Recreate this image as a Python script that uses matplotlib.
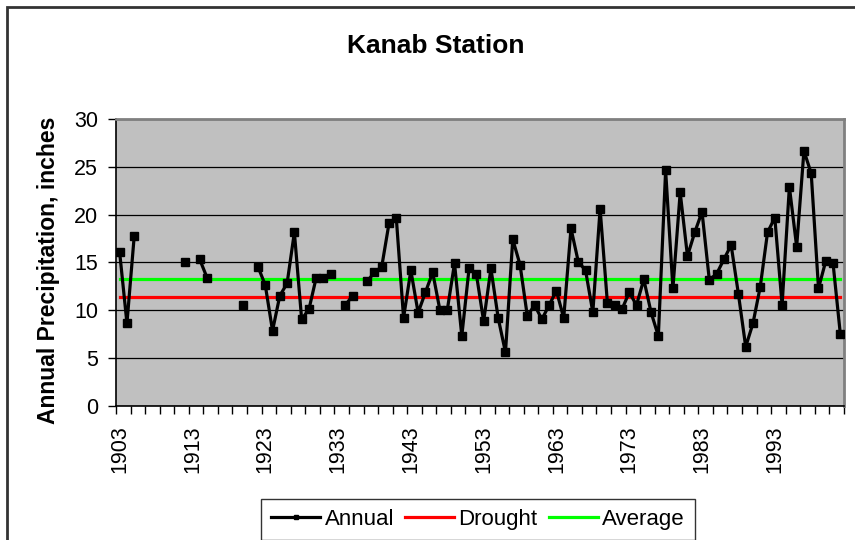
import matplotlib
matplotlib.use("Agg")
from matplotlib import pyplot as plt
from matplotlib.patches import Rectangle
import numpy as np

plt.rcParams["font.family"] = ["Liberation Sans", "DejaVu Sans"]

# annual precipitation, inches (None = no record)
years = list(range(1903, 2003))
annual = [
    16.04, 8.62, 17.75, None, None, None, None, None, None, 15.06,
    None, 15.31, 13.40, None, None, None, None, 10.53, None, 14.54,
    12.63, 7.85, 11.51, 12.80, 18.14, 9.04, 10.08, 13.40, 13.40, 13.74,
    None, 10.53, 11.51, None, 13.01, 13.95, 14.54, 19.08, 19.67, 9.20,
    14.16, 9.73, 11.86, 13.95, 9.98, 9.98, 14.90, 7.29, 14.37, 13.78,
    8.83, 14.37, 9.17, 5.58, 17.41, 14.75, 9.38, 10.53, 9.04, 10.53,
    12.03, 9.17, 18.55, 15.06, 14.16, 9.77, 20.61, 10.77, 10.53, 10.08,
    11.86, 10.53, 13.22, 9.77, 7.29, 24.62, 12.28, 22.32, 15.66, 18.14,
    20.29, 13.18, 13.78, 15.31, 16.81, 11.68, 6.17, 8.62, 12.45, 18.14,
    19.67, 10.53, 22.91, 16.63, 26.67, 24.31, 12.28, 15.14, 14.90, 7.50,
]
drought_level = 11.37
average_level = 13.28
label_years = list(range(1903, 2003, 10))


def plot_kanab():
    fig = plt.figure(figsize=(8.55, 5.4), dpi=100)
    ax = fig.add_axes([0.1357, 0.2487, 0.8514, 0.5309])
    ax.set_facecolor("#c0c0c0")

    vals = np.array([np.nan if v is None else v for v in annual])
    ax.plot(years, vals, color="black", lw=2.3, marker="s", ms=5.5,
            label="Annual", zorder=4)
    ax.plot([years[0], years[-1]], [drought_level] * 2, color="#ff0000",
            lw=2.3, label="Drought", zorder=3)
    ax.plot([years[0], years[-1]], [average_level] * 2, color="#00ff00",
            lw=2.3, label="Average", zorder=3)

    # y axis
    ax.set_ylim(0, 30)
    ax.set_yticks(range(0, 31, 5))
    ax.yaxis.grid(True, color="black", lw=0.9)
    ax.set_axisbelow(True)
    ax.tick_params(axis="y", labelsize=15.5, length=6, width=1,
                   direction="out", pad=7)
    ax.set_ylabel("Annual Precipitation, inches", fontsize=16.5,
                  fontweight="bold")
    ax.yaxis.set_label_coords(-0.077, 0.473)

    # x axis, categories between tick marks
    ax.set_xlim(years[0] - 0.5, years[-1] + 0.5)
    ax.set_xticks(np.arange(years[0] - 0.5, years[-1] + 1, 2), minor=True)
    ax.set_xticks(label_years)
    ax.set_xticklabels([str(y) for y in label_years], rotation=90)
    ax.tick_params(axis="x", which="major", length=0, labelsize=15.5, pad=14)
    ax.tick_params(axis="x", which="minor", length=5.5, width=1,
                   direction="out")

    for side in ["left", "bottom"]:
        ax.spines[side].set_color("black")
        ax.spines[side].set_linewidth(1.2)
    for side in ["top", "right"]:
        ax.spines[side].set_color("#808080")
        ax.spines[side].set_linewidth(2)

    fig.text(0.51, 0.915, "Kanab Station", ha="center", va="center",
             fontsize=19, fontweight="bold")

    leg = fig.legend(loc="center", bbox_to_anchor=(0.559, 0.038), ncol=3,
                     fontsize=16, frameon=True, fancybox=False,
                     edgecolor="black", handlelength=2.2, handletextpad=0.2,
                     columnspacing=0.5, borderpad=0.45, markerscale=0.55)
    leg.get_frame().set_linewidth(1)

    # chart area border
    fig.patches.append(Rectangle((7 / 855, -0.05), 1.1, 1.05 - 7 / 540,
                                 transform=fig.transFigure, fill=False,
                                 edgecolor="#333333", lw=2))

    fig.savefig("out.png", dpi=100)


if __name__ == "__main__":
    plot_kanab()
